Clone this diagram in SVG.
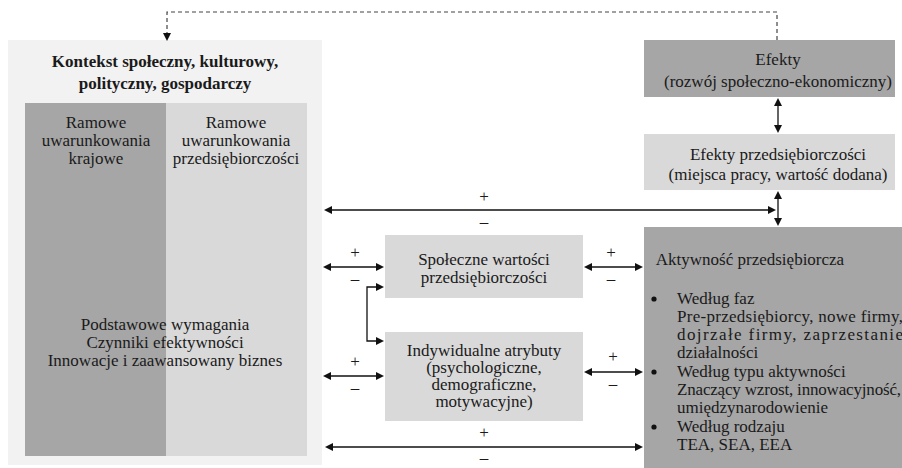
<svg xmlns="http://www.w3.org/2000/svg" width="902" height="468" viewBox="0 0 902 468">
<rect width="902" height="468" fill="#fff"/>
<g id="kontekst">
<rect fill="#f2f2f2" x="8" y="40" width="314" height="425"/>
<text font-family="Liberation Serif" font-size="17" font-weight="bold" fill="#1a1a1a" text-anchor="middle" x="165" y="67">Kontekst społeczny, kulturowy,</text>
<text font-family="Liberation Serif" font-size="17" font-weight="bold" fill="#1a1a1a" text-anchor="middle" x="165" y="89">polityczny, gospodarczy</text>
</g>
<g id="ramowe-krajowe">
<rect fill="#a6a6a6" x="25" y="103" width="141" height="353"/>
<text font-family="Liberation Serif" font-size="17" fill="#1a1a1a" text-anchor="middle" x="96" y="128">Ramowe</text>
<text font-family="Liberation Serif" font-size="17" fill="#1a1a1a" text-anchor="middle" x="96" y="146">uwarunkowania</text>
<text font-family="Liberation Serif" font-size="17" fill="#1a1a1a" text-anchor="middle" x="96" y="164">krajowe</text>
</g>
<g id="ramowe-przedsiebiorczosci">
<rect fill="#d9d9d9" x="166" y="103" width="141" height="353"/>
<text font-family="Liberation Serif" font-size="17" fill="#1a1a1a" text-anchor="middle" x="236" y="128">Ramowe</text>
<text font-family="Liberation Serif" font-size="17" fill="#1a1a1a" text-anchor="middle" x="236" y="146">uwarunkowania</text>
<text font-family="Liberation Serif" font-size="17" fill="#1a1a1a" text-anchor="middle" x="236" y="164">przedsiębiorczości</text>
</g>
<g id="wymagania">
<text font-family="Liberation Serif" font-size="17" fill="#1a1a1a" text-anchor="middle" x="165" y="330">Podstawowe wymagania</text>
<text font-family="Liberation Serif" font-size="17" fill="#1a1a1a" text-anchor="middle" x="165" y="348">Czynniki efektywności</text>
<text font-family="Liberation Serif" font-size="17" fill="#1a1a1a" text-anchor="middle" x="165" y="366">Innowacje i zaawansowany biznes</text>
</g>
<g id="efekty">
<rect fill="#a6a6a6" x="644" y="40" width="251" height="57"/>
<text font-family="Liberation Serif" font-size="17" fill="#1a1a1a" text-anchor="middle" x="778" y="65">Efekty</text>
<text font-family="Liberation Serif" font-size="17" fill="#1a1a1a" text-anchor="middle" x="778" y="87">(rozwój społeczno-ekonomiczny)</text>
</g>
<g id="efekty-przedsiebiorczosci">
<rect fill="#d9d9d9" x="644" y="134" width="251" height="56"/>
<text font-family="Liberation Serif" font-size="17" fill="#1a1a1a" text-anchor="middle" x="778" y="160">Efekty przedsiębiorczości</text>
<text font-family="Liberation Serif" font-size="17" fill="#1a1a1a" text-anchor="middle" x="778" y="180">(miejsca pracy, wartość dodana)</text>
</g>
<g id="spoleczne-wartosci">
<rect fill="#d9d9d9" x="385" y="235" width="198" height="63"/>
<text font-family="Liberation Serif" font-size="17" fill="#1a1a1a" text-anchor="middle" x="484" y="265">Społeczne wartości</text>
<text font-family="Liberation Serif" font-size="17" fill="#1a1a1a" text-anchor="middle" x="484" y="283">przedsiębiorczości</text>
</g>
<g id="indywidualne-atrybuty">
<rect fill="#d9d9d9" x="385" y="332" width="198" height="89"/>
<text font-family="Liberation Serif" font-size="17" fill="#1a1a1a" text-anchor="middle" x="484" y="356">Indywidualne atrybuty</text>
<text font-family="Liberation Serif" font-size="17" fill="#1a1a1a" text-anchor="middle" x="484" y="373">(psychologiczne,</text>
<text font-family="Liberation Serif" font-size="17" fill="#1a1a1a" text-anchor="middle" x="484" y="390">demograficzne,</text>
<text font-family="Liberation Serif" font-size="17" fill="#1a1a1a" text-anchor="middle" x="484" y="407">motywacyjne)</text>
</g>
<g id="aktywnosc">
<rect fill="#a6a6a6" x="644" y="227" width="258" height="241"/>
<text font-family="Liberation Serif" font-size="17" fill="#1a1a1a" text-anchor="middle" x="750" y="265">Aktywność przedsiębiorcza</text>
<circle cx="654" cy="299" r="2.6" fill="#111"/>
<text font-family="Liberation Serif" font-size="17" fill="#1a1a1a" x="677" y="304">Według faz</text>
<text font-family="Liberation Serif" font-size="17" fill="#1a1a1a" x="677" y="322" textLength="226" lengthAdjust="spacing">Pre-przedsiębiorcy, nowe firmy,</text>
<text font-family="Liberation Serif" font-size="17" fill="#1a1a1a" x="677" y="340" textLength="226" lengthAdjust="spacing">dojrzałe firmy, zaprzestanie</text>
<text font-family="Liberation Serif" font-size="17" fill="#1a1a1a" x="677" y="358">działalności</text>
<circle cx="654" cy="372" r="2.6" fill="#111"/>
<text font-family="Liberation Serif" font-size="17" fill="#1a1a1a" x="677" y="377">Według typu aktywności</text>
<text font-family="Liberation Serif" font-size="17" fill="#1a1a1a" x="677" y="395" textLength="224" lengthAdjust="spacing">Znaczący wzrost, innowacyjność,</text>
<text font-family="Liberation Serif" font-size="17" fill="#1a1a1a" x="677" y="413">umiędzynarodowienie</text>
<circle cx="654" cy="427" r="2.6" fill="#111"/>
<text font-family="Liberation Serif" font-size="17" fill="#1a1a1a" x="677" y="432">Według rodzaju</text>
<text font-family="Liberation Serif" font-size="17" fill="#1a1a1a" x="677" y="450">TEA, SEA, EEA</text>
</g>
<g id="connectors">
<path d="M777,40 V12 H167 V33" stroke="#444" stroke-width="1.2" fill="none" stroke-dasharray="4 3"/>
<path d="M163,33 L171,33 L167,41 z" fill="#111"/>
<g stroke="#111" stroke-width="1.3" fill="none">
<line x1="778" y1="104" x2="778" y2="127"/>
<line x1="778" y1="197" x2="778" y2="220"/>
<line x1="330" y1="210" x2="770" y2="210"/>
<line x1="329" y1="267" x2="378" y2="267"/>
<line x1="590" y1="267" x2="637" y2="267"/>
<path d="M378,287 H367 V341 H378"/>
<line x1="329" y1="376" x2="378" y2="376"/>
<line x1="590" y1="372" x2="637" y2="372"/>
<line x1="331" y1="447" x2="637" y2="447"/>
</g>
<g fill="#111">
<path d="M778,98 L774,106 L782,106 z"/>
<path d="M778,133 L774,125 L782,125 z"/>
<path d="M778,191 L774,199 L782,199 z"/>
<path d="M778,226 L774,218 L782,218 z"/>
<path d="M324,210 L332,206 L332,214 z"/>
<path d="M776,210 L768,206 L768,214 z"/>
<path d="M323,267 L331,263 L331,271 z"/>
<path d="M384,267 L376,263 L376,271 z"/>
<path d="M584,267 L592,263 L592,271 z"/>
<path d="M643,267 L635,263 L635,271 z"/>
<path d="M384,287 L376,283 L376,291 z"/>
<path d="M384,341 L376,337 L376,345 z"/>
<path d="M323,376 L331,372 L331,380 z"/>
<path d="M384,376 L376,372 L376,380 z"/>
<path d="M584,372 L592,368 L592,376 z"/>
<path d="M643,372 L635,368 L635,376 z"/>
<path d="M325,447 L333,443 L333,451 z"/>
<path d="M643,447 L635,443 L635,451 z"/>
</g>
<text font-family="Liberation Serif" font-size="17" fill="#1a1a1a" text-anchor="middle" x="484" y="202">+</text>
<text font-family="Liberation Serif" font-size="17" fill="#1a1a1a" text-anchor="middle" x="484" y="227">–</text>
<text font-family="Liberation Serif" font-size="17" fill="#1a1a1a" text-anchor="middle" x="355" y="258">+</text>
<text font-family="Liberation Serif" font-size="17" fill="#1a1a1a" text-anchor="middle" x="355" y="284">–</text>
<text font-family="Liberation Serif" font-size="17" fill="#1a1a1a" text-anchor="middle" x="611" y="258">+</text>
<text font-family="Liberation Serif" font-size="17" fill="#1a1a1a" text-anchor="middle" x="611" y="284">–</text>
<text font-family="Liberation Serif" font-size="17" fill="#1a1a1a" text-anchor="middle" x="355" y="367">+</text>
<text font-family="Liberation Serif" font-size="17" fill="#1a1a1a" text-anchor="middle" x="355" y="393">–</text>
<text font-family="Liberation Serif" font-size="17" fill="#1a1a1a" text-anchor="middle" x="613" y="362">+</text>
<text font-family="Liberation Serif" font-size="17" fill="#1a1a1a" text-anchor="middle" x="613" y="389">–</text>
<text font-family="Liberation Serif" font-size="17" fill="#1a1a1a" text-anchor="middle" x="484" y="438">+</text>
<text font-family="Liberation Serif" font-size="17" fill="#1a1a1a" text-anchor="middle" x="484" y="463">–</text>
</g>
</svg>
